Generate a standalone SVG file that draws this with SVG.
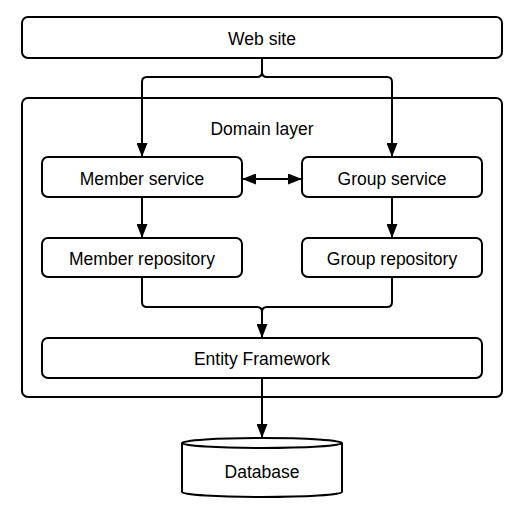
<svg xmlns="http://www.w3.org/2000/svg" width="521" height="516" viewBox="0 0 521 516">
<defs>
<style>
.box{fill:#fff;stroke:#000;stroke-width:2}
.t{font-family:"Liberation Sans",Arial,sans-serif;font-size:17.5px;fill:#000;text-anchor:middle;dominant-baseline:central}
.c{fill:none;stroke:#000;stroke-width:2}
</style>
<marker id="ah" viewBox="0 0 14 11" refX="14" refY="5.5" markerWidth="14" markerHeight="11" markerUnits="userSpaceOnUse" orient="auto-start-reverse">
<path d="M0,0 L14,5.5 L0,11 z" fill="#000"/>
</marker>
</defs>
<rect width="521" height="516" fill="#fff"/>
<g id="domain">
<rect class="box" x="22" y="98" width="480" height="299" rx="6"/>
<text class="t" x="262" y="129">Domain layer</text>
</g>
<g id="website">
<rect class="box" x="22" y="17" width="480" height="41" rx="6"/>
<text class="t" x="262" y="39">Web site</text>
</g>
<g id="member-service">
<rect class="box" x="42" y="157" width="200" height="40" rx="6"/>
<text class="t" x="142" y="179">Member service</text>
</g>
<g id="group-service">
<rect class="box" x="302" y="157" width="180" height="40" rx="6"/>
<text class="t" x="392" y="179">Group service</text>
</g>
<g id="member-repo">
<rect class="box" x="42" y="238" width="200" height="39" rx="6"/>
<text class="t" x="142" y="259">Member repository</text>
</g>
<g id="group-repo">
<rect class="box" x="302" y="238" width="180" height="39" rx="6"/>
<text class="t" x="392" y="259">Group repository</text>
</g>
<g id="entity-framework">
<rect class="box" x="42" y="338" width="440" height="40" rx="6"/>
<text class="t" x="262" y="359">Entity Framework</text>
</g>
<g id="database">
<path class="box" d="M182,443 L182,492 A80,5 0 0 0 342,492 L342,443 A80,5 0 0 0 182,443 Z"/>
<path class="c" d="M182,443 A80,5 0 0 0 342,443"/>
<text class="t" x="262" y="472">Database</text>
</g>
<g id="connectors">
<path class="c" d="M262,58 L262,72 Q262,77 257,77 L147,77 Q142,77 142,82 L142,157" marker-end="url(#ah)"/>
<path class="c" d="M262,72 Q262,77 267,77 L387,77 Q392,77 392,82 L392,157" marker-end="url(#ah)"/>
<path class="c" d="M242,179 L302,179" marker-start="url(#ah)" marker-end="url(#ah)"/>
<path class="c" d="M142,197 L142,238" marker-end="url(#ah)"/>
<path class="c" d="M392,197 L392,238" marker-end="url(#ah)"/>
<path class="c" d="M142,277 L142,302 Q142,307 147,307 L257,307 Q262,307 262,312 L262,338" marker-end="url(#ah)"/>
<path class="c" d="M392,277 L392,302 Q392,307 387,307 L267,307 Q262,307 262,312"/>
<path class="c" d="M262,378 L262,438" marker-end="url(#ah)"/>
</g>
</svg>
